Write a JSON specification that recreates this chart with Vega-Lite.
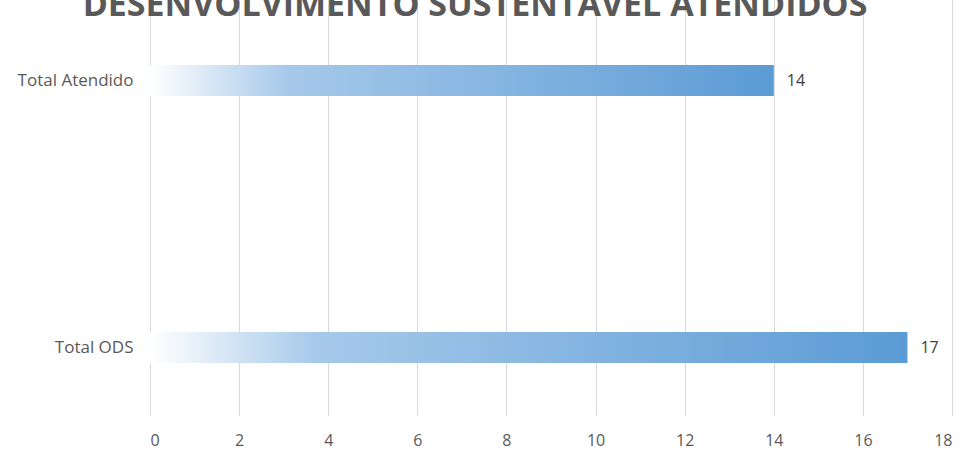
{
  "$schema": "https://vega.github.io/schema/vega-lite/v6.json",
  "autosize": "none",
  "width": 802,
  "height": 415,
  "padding": {"left": 150, "top": 0, "right": 14, "bottom": 37},
  "background": "#ffffff",
  "title": {
    "text": "DESENVOLVIMENTO SUSTENTÁVEL ATENDIDOS",
    "anchor": "middle",
    "frame": "group",
    "offset": 0,
    "baseline": "alphabetic",
    "dy": 50,
    "font": "Open Sans",
    "fontSize": 34,
    "fontWeight": "bold",
    "color": "#595959",
    "dx": -76
  },
  "data": {
    "values": [
      {"categoria": "Total Atendido", "valor": 14},
      {"categoria": "Total ODS", "valor": 17}
    ]
  },
  "config": {
    "view": {"stroke": null},
    "font": "Open Sans"
  },
  "encoding": {
    "y": {
      "field": "categoria",
      "type": "nominal",
      "sort": null,
      "scale": {"paddingInner": 0.884, "paddingOuter": 0.219, "align": 0.556},
      "axis": {
        "title": null,
        "domain": false,
        "ticks": false,
        "grid": false,
        "labelPadding": 17,
        "labelFontSize": 17,
        "labelColor": "#595959",
        "labelFont": "Open Sans"
      }
    },
    "x": {
      "field": "valor",
      "type": "quantitative",
      "scale": {"domain": [0, 18], "nice": false},
      "axis": {
        "title": null,
        "values": [0, 2, 4, 6, 8, 10, 12, 14, 16, 18],
        "domain": false,
        "ticks": false,
        "grid": true,
        "gridColor": "#d9d9d9",
        "gridWidth": 1,
        "labelPadding": 17,
        "labelFontSize": 16,
        "labelColor": "#595959",
        "labelFont": "Open Sans"
      }
    }
  },
  "layer": [
    {
      "mark": {
        "type": "bar",
        "color": {
          "gradient": "linear",
          "x1": 0, "y1": 0, "x2": 1, "y2": 0,
          "stops": [
            {"offset": 0, "color": "#ffffff"},
            {"offset": 0.22, "color": "#a6c9ea"},
            {"offset": 1, "color": "#5b9bd5"}
          ]
        }
      }
    },
    {
      "mark": {
        "type": "text",
        "align": "left",
        "baseline": "middle",
        "dx": 13,
        "fontSize": 16,
        "color": "#404040",
        "font": "Open Sans"
      },
      "encoding": {
        "text": {"field": "valor", "type": "quantitative"}
      }
    }
  ]
}
